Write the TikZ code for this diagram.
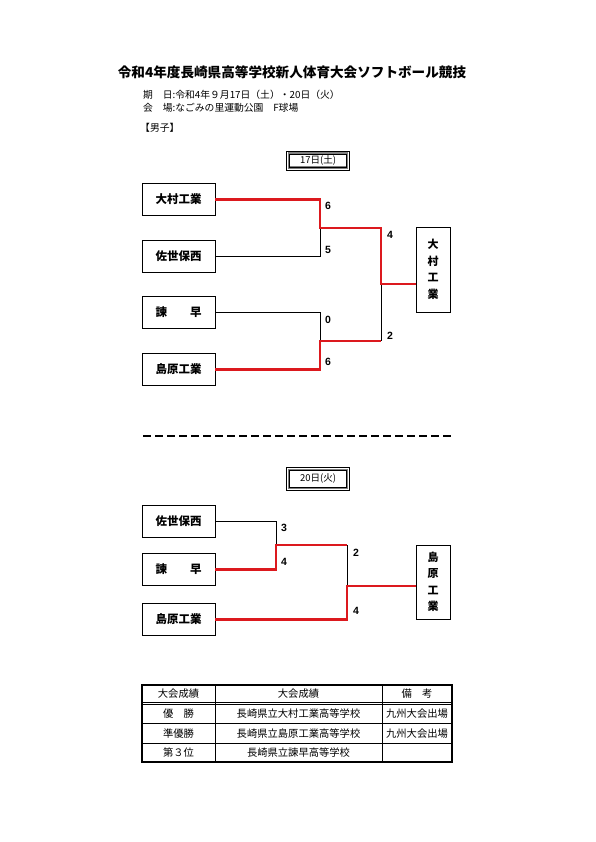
\documentclass[tikz,border=0pt]{standalone}
\usepackage{fontspec}
\setmainfont{Noto Sans CJK JP}
\newfontfamily\numfont{Liberation Sans}
\definecolor{bred}{RGB}{220,25,30}
\begin{document}
\begin{tikzpicture}[x=1pt,y=-1pt,
  team/.style={draw,line width=0.8pt,minimum width=73pt,minimum height=32pt,inner sep=0pt,font=\bfseries\fontsize{11.5}{13}\selectfont},
  winbox/.style={draw,line width=0.8pt,minimum width=34pt,inner sep=0pt,align=center,font=\bfseries\fontsize{11}{16.5}\selectfont},
  datebox/.style={draw=gray,line width=2.4pt,minimum width=58pt,inner sep=0pt,font=\fontsize{9.5}{10}\selectfont},
  score/.style={font=\numfont\bfseries\fontsize{10.5}{12}\selectfont,inner sep=0pt},
  thinline/.style={line width=0.7pt,draw=black},
  redline/.style={line width=2.6pt,draw=bred},
  cell/.style={inner sep=0pt,font=\fontsize{10.3}{11}\selectfont}]
\useasboundingbox (0,0) rectangle (595,842);
% header texts
\node[font=\bfseries\fontsize{13.6}{15}\selectfont,inner sep=0pt] (title) at (292,72) {令和4年度長崎県高等学校新人体育大会ソフトボール競技};
\node[anchor=west,inner sep=0pt,font=\fontsize{9.8}{11}\selectfont] (date) at (143,95) {期　日:令和4年９月17日（土）・20日（火）};
\node[anchor=west,inner sep=0pt,font=\fontsize{9.8}{11}\selectfont] (place) at (143,108) {会　場:なごみの里運動公園　F球場};
\node[anchor=west,inner sep=0pt,font=\fontsize{9.8}{11}\selectfont] (sec) at (140,128) {【男子】};
% day 1
\node[datebox,minimum height=14pt] (d1) at (318,160.5) {17日(土)};
\draw[line width=0.5pt] ([shift={(1.6,1.6)}]d1.north west) rectangle ([shift={(-1.6,-1.6)}]d1.south east);
\draw[line width=0.5pt] ([shift={(-1.2,-1.2)}]d1.north west) rectangle ([shift={(1.2,1.2)}]d1.south east);
\node[team] (a1) at (178.5,199.5) {大村工業};
\node[team] (a2) at (178.5,256) {佐世保西};
\node[team] (a3) at (178.5,312.5) {諫　　早};
\node[team] (a4) at (178.5,369.5) {島原工業};
\node[winbox,minimum height=85pt] (w1) at (433,269.5) {大\\村\\工\\業};
\coordinate (j1) at (320,228);
\coordinate (j2) at (320,341);
\coordinate (k1) at (381,228);
\coordinate (k2) at (381,341);
\coordinate (k3) at (381,284);
\draw[thinline] (a2.east) -| (j1);
\draw[thinline] (a3.east) -| (j2);
\draw[thinline] (k3) -- (k2);
\draw[redline] (a1.east) -| (j1) -- (k1) -- (k3) -- (w1.west |- k3);
\draw[redline] (a4.east) -| (j2) -- (k2);
\node[score] (s1) at (328,206) {6};
\node[score] (s2) at (328,250) {5};
\node[score] (s3) at (328,320) {0};
\node[score] (s4) at (328,362) {6};
\node[score] (s5) at (390,235) {4};
\node[score] (s6) at (390,336) {2};
% separator
\coordinate (dl1) at (143,436);
\coordinate (dl2) at (451,436);
\draw[line width=1.6pt,dash pattern=on 8pt off 4pt] (dl1) -- (dl2);
% day 2
\node[datebox,minimum height=18pt] (d2) at (318,479) {20日(火)};
\draw[line width=0.5pt] ([shift={(1.6,1.6)}]d2.north west) rectangle ([shift={(-1.6,-1.6)}]d2.south east);
\draw[line width=0.5pt] ([shift={(-1.2,-1.2)}]d2.north west) rectangle ([shift={(1.2,1.2)}]d2.south east);
\node[team] (b1) at (178.5,521) {佐世保西};
\node[team] (b2) at (178.5,569.5) {諫　　早};
\node[team] (b3) at (178.5,619.5) {島原工業};
\node[winbox,minimum height=74pt] (w2) at (433,582) {島\\原\\工\\業};
\coordinate (m1) at (276,545);
\coordinate (m2) at (347,545);
\coordinate (m3) at (347,586);
\draw[thinline] (b1.east) -| (m1);
\draw[thinline] (m2) -- (m3);
\draw[redline] (b2.east) -| (m1) -- (m2);
\draw[redline] (b3.east) -| (m3) -- (w2.west |- m3);
\node[score] (t1) at (284,528) {3};
\node[score] (t2) at (284,562) {4};
\node[score] (t3) at (356,553) {2};
\node[score] (t4) at (356,611) {4};
% table
\draw[line width=1.4pt] (142,685) rectangle (452,762);
\draw[line width=0.6pt] (142,702) -- (452,702);
\draw[line width=0.6pt] (142,704.5) -- (452,704.5);
\draw[line width=0.6pt] (142,723) -- (452,723);
\draw[line width=0.6pt] (142,743) -- (452,743);
\draw[line width=0.8pt] (215,685) -- (215,762);
\draw[line width=0.8pt] (382,685) -- (382,762);
\node[cell] (h1) at (178.5,694) {大会成績};
\node[cell] (h2) at (298.5,694) {大会成績};
\node[cell] (h3) at (417,694) {備　考};
\node[cell] (r11) at (178.5,714) {優　勝};
\node[cell] (r12) at (298.5,714) {長崎県立大村工業高等学校};
\node[cell] (r13) at (417,714) {九州大会出場};
\node[cell] (r21) at (178.5,733.5) {準優勝};
\node[cell] (r22) at (298.5,733.5) {長崎県立島原工業高等学校};
\node[cell] (r23) at (417,733.5) {九州大会出場};
\node[cell] (r31) at (178.5,753) {第３位};
\node[cell] (r32) at (298.5,753) {長崎県立諫早高等学校};
\end{tikzpicture}
\end{document}
